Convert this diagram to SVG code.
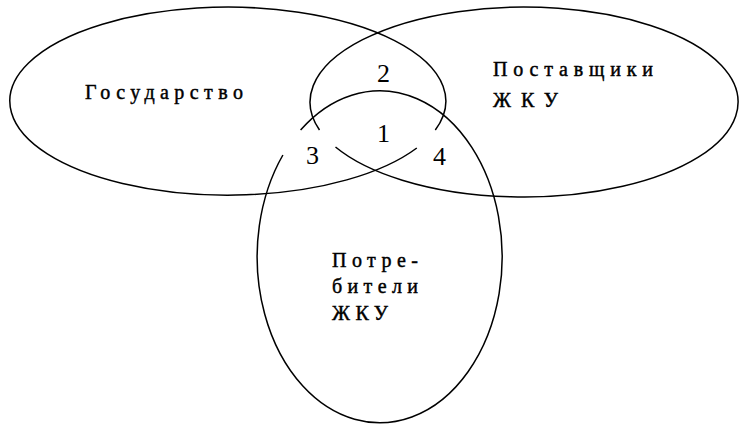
<svg xmlns="http://www.w3.org/2000/svg" width="740" height="428" viewBox="0 0 740 428">
<style>
.sh{fill:none;stroke:#000;stroke-width:1.5}
.t{font-family:"Liberation Serif","Times New Roman",serif;font-size:20px;fill:#000;stroke:#000;stroke-width:0.45}
.n{font-family:"Liberation Serif","Times New Roman",serif;font-size:26px;fill:#000}
</style>
<rect width="740" height="428" fill="#fff"/>
<g id="gosudarstvo">
<path class="sh" d="M435.3,130 A218,94 0 1 0 416.8,148"/>
<text class="t" x="85" y="99" textLength="158" lengthAdjust="spacing">Государство</text>
</g>
<g id="postavshchiki">
<path class="sh" d="M319.5,130 A214,95 0 1 1 335.5,147"/>
<text class="t" x="493" y="76" textLength="160" lengthAdjust="spacing">Поставщики</text>
<text class="t" x="493" y="107" textLength="65" lengthAdjust="spacing">ЖКУ</text>
</g>
<g id="potrebiteli">
<path class="sh" d="M300.6,130 A122.5,166 0 1 1 282.9,155"/>
<text class="t" x="332" y="267" textLength="86" lengthAdjust="spacing">Потре-</text>
<text class="t" x="332" y="293" textLength="86" lengthAdjust="spacing">бители</text>
<text class="t" x="332" y="320" textLength="56" lengthAdjust="spacing">ЖКУ</text>
</g>
<g id="regions">
<text class="n" x="377" y="82">2</text>
<text class="n" x="377" y="142">1</text>
<text class="n" x="306" y="164">3</text>
<text class="n" x="433" y="165">4</text>
</g>
<g id="connectors"/>
</svg>
